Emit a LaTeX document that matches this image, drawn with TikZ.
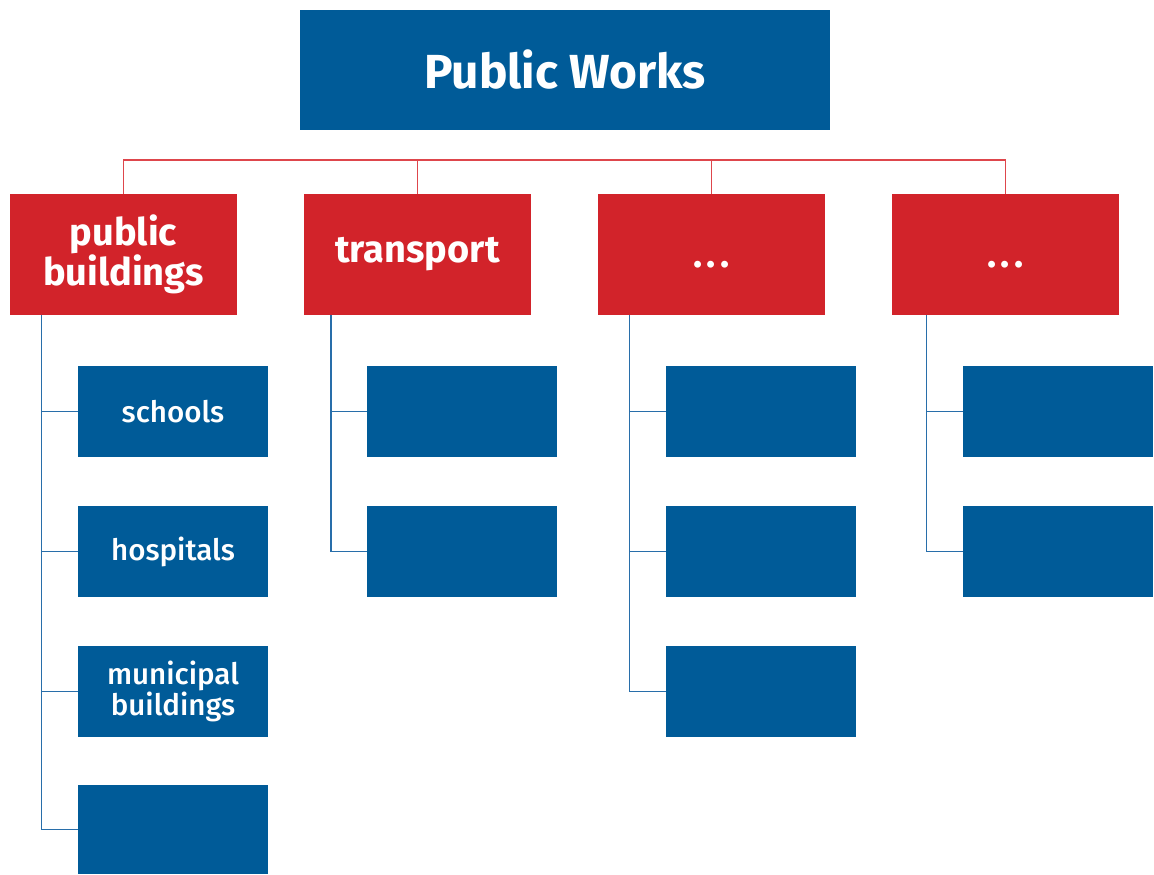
\documentclass[tikz,border=0pt]{standalone}
\usepackage{fontspec}
\setmainfont{Fira Sans}
\newfontfamily\firamedium[UprightFont={* Medium}]{Fira Sans}
\usetikzlibrary{positioning}

\definecolor{pwblue}{RGB}{0,91,152}
\definecolor{pwred}{RGB}{210,35,42}
\definecolor{pwline}{RGB}{222,70,76}
\definecolor{pwwire}{RGB}{40,110,170}

\tikzset{
	topbox/.style={fill=pwblue, text=white, minimum width=13.25cm, minimum height=3cm, font=\fontsize{34}{38}\selectfont\bfseries},
	headbox/.style={fill=pwred, text=white, minimum width=5.675cm, minimum height=3.025cm, align=center, font=\fontsize{27}{25}\selectfont\bfseries},
	itembox/.style={fill=pwblue, text=white, minimum width=4.75cm, minimum height=2.275cm, align=center, font=\fontsize{21}{17}\selectfont\firamedium},
	redwire/.style={draw=pwline, line width=0.8pt},
	bluewire/.style={draw=pwwire, line width=0.8pt},
}
\newcommand{\moredots}{\vphantom{Tg}\smash{\raisebox{-3pt}{.\kern3pt.\kern3pt.}}}

\begin{document}
\begin{tikzpicture}[x=0.025cm, y=-0.025cm]
	\useasboundingbox (0, 0) rectangle (1154, 874);

	% Boxes:
	\node[topbox] (works) at (565, 70) {Public Works};

	\node[headbox] (buildings) at (123.5, 254.5) {public\\buildings};
	\node[headbox] (transport) at (417.5, 254.5) {transport};
	\node[headbox] (third) at (711.5, 254.5) {\moredots};
	\node[headbox] (fourth) at (1005.5, 254.5) {\moredots};

	\node[itembox] (schools) at (173, 411.5) {schools};
	\node[itembox] (hospitals) at (173, 551.5) {hospitals};
	\node[itembox] (municipal) at (173, 691.5) {municipal\\buildings};
	\node[itembox, minimum height=2.225cm] (bfour) at (173, 829.5) {};

	\node[itembox] (tone) at (462, 411.5) {};
	\node[itembox] (ttwo) at (462, 551.5) {};

	\node[itembox] (cone) at (761, 411.5) {};
	\node[itembox] (ctwo) at (761, 551.5) {};
	\node[itembox] (cthree) at (761, 691.5) {};

	\node[itembox] (done) at (1058, 411.5) {};
	\node[itembox] (dtwo) at (1058, 551.5) {};

	% Lines:
	\coordinate (bar) at (0, 160);
	\draw[redwire] (buildings.north) |- (bar -| fourth.north) -- (fourth.north);
	\draw[redwire] (transport.north) -- (bar -| transport.north);
	\draw[redwire] (third.north) -- (bar -| third.north);

	\coordinate (bspine) at (41.5, 0);
	\coordinate (tspine) at (331, 0);
	\coordinate (cspine) at (629.5, 0);
	\coordinate (dspine) at (926.5, 0);

	\draw[bluewire] (bspine |- buildings.south) |- (bfour.west);
	\draw[bluewire] (bspine |- schools.west) -- (schools.west);
	\draw[bluewire] (bspine |- hospitals.west) -- (hospitals.west);
	\draw[bluewire] (bspine |- municipal.west) -- (municipal.west);

	\draw[bluewire] (tspine |- transport.south) |- (ttwo.west);
	\draw[bluewire] (tspine |- tone.west) -- (tone.west);

	\draw[bluewire] (cspine |- third.south) |- (cthree.west);
	\draw[bluewire] (cspine |- cone.west) -- (cone.west);
	\draw[bluewire] (cspine |- ctwo.west) -- (ctwo.west);

	\draw[bluewire] (dspine |- fourth.south) |- (dtwo.west);
	\draw[bluewire] (dspine |- done.west) -- (done.west);

\end{tikzpicture}
\end{document}
